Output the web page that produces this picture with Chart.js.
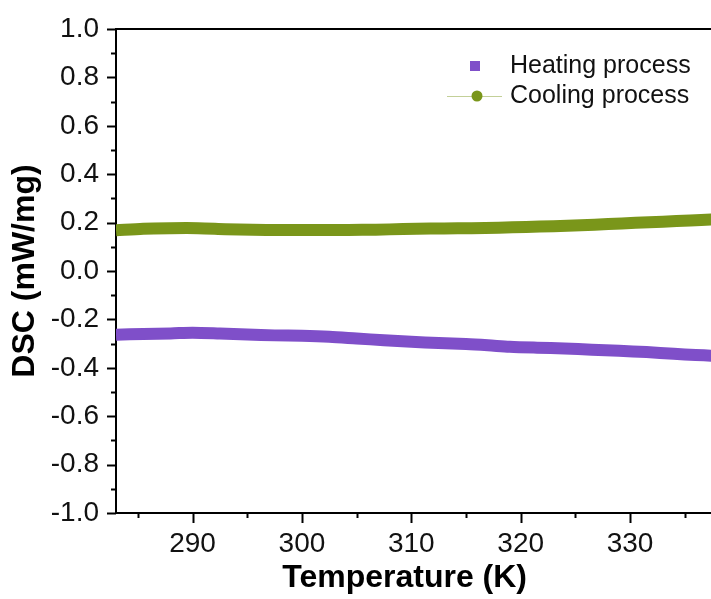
<!DOCTYPE html>
<html>
<head>
<meta charset="utf-8">
<script src="https://cdn.jsdelivr.net/npm/chart.js@4.4.1/dist/chart.umd.min.js"></script>
<style>
  html, body { margin: 0; padding: 0; background: #fff; }
  #wrap { width: 711px; height: 599px; position: relative; }
</style>
</head>
<body>
<div id="wrap"><canvas id="dsc" width="711" height="599"></canvas></div>
<script>
// DSC traces (temperature in K, heat flow in mW/mg)
const heatingT   = [283.0, 285.5, 288.0, 290.0, 292.5, 295.0, 297.5, 300.0, 302.5, 305.0, 307.5, 310.0, 312.5, 315.0, 317.0, 319.0, 321.5, 324.0, 326.5, 329.0, 331.5, 334.0, 336.0, 337.5];
const heatingDSC = [-0.263, -0.260, -0.258, -0.255, -0.258, -0.262, -0.266, -0.268, -0.272, -0.279, -0.286, -0.292, -0.298, -0.302, -0.307, -0.313, -0.317, -0.320, -0.325, -0.330, -0.335, -0.342, -0.347, -0.350];

const coolingT   = [283.0, 285.5, 288.0, 290.5, 293.0, 295.5, 298.0, 300.5, 303.0, 305.5, 308.0, 310.5, 313.0, 315.5, 318.0, 320.5, 323.0, 325.5, 328.0, 330.5, 333.0, 335.5, 337.5];
const coolingDSC = [0.168, 0.175, 0.177, 0.177, 0.173, 0.170, 0.169, 0.169, 0.169, 0.170, 0.172, 0.175, 0.176, 0.177, 0.179, 0.182, 0.185, 0.189, 0.194, 0.199, 0.204, 0.209, 0.213];

// axis ticks
const xMajorTicks = [290, 300, 310, 320, 330];
const xMinorTicks = [285, 295, 305, 315, 325, 335];
const yMajorTicks = [-1.0, -0.8, -0.6, -0.4, -0.2, 0.0, 0.2, 0.4, 0.6, 0.8, 1.0];
const yMinorTicks = [-0.9, -0.7, -0.5, -0.3, -0.1, 0.1, 0.3, 0.5, 0.7, 0.9];

const purple = 'rgb(127, 79, 201)';
const green  = 'rgb(122, 150, 26)';
const fontFamily = '"Liberation Sans", Arial, Helvetica, sans-serif';

const toXY = (xs, ys) => xs.map((x, i) => ({ x: x, y: ys[i] }));

// outward tick marks (major and minor) plus the top frame line
const frameAndTicks = {
  id: 'frameAndTicks',
  afterDraw(chart) {
    const { ctx, chartArea, scales } = chart;
    const xs = scales.x, ys = scales.y;
    ctx.save();
    ctx.strokeStyle = '#000';
    ctx.lineWidth = 2;
    ctx.beginPath();
    ctx.moveTo(chartArea.left, chartArea.top);
    ctx.lineTo(chartArea.right, chartArea.top);
    ctx.stroke();
    const bottom = chartArea.bottom, left = chartArea.left;
    const drawX = (vals, len) => vals.forEach(v => {
      const px = Math.round(xs.getPixelForValue(v)) + 0.5;
      ctx.beginPath(); ctx.moveTo(px, bottom); ctx.lineTo(px, bottom + len); ctx.stroke();
    });
    const drawY = (vals, len) => vals.forEach(v => {
      const py = Math.round(ys.getPixelForValue(v)) + 0.5;
      ctx.beginPath(); ctx.moveTo(left, py); ctx.lineTo(left - len, py); ctx.stroke();
    });
    drawX(xMajorTicks, 10); drawX(xMinorTicks, 5);
    drawY(yMajorTicks, 9);  drawY(yMinorTicks, 5);
    ctx.restore();
  }
};

// legend in the upper right of the plot
const insetLegend = {
  id: 'insetLegend',
  afterDraw(chart) {
    const ctx = chart.ctx;
    const ds = chart.data.datasets;
    ctx.save();
    ctx.font = '25px ' + fontFamily;
    ctx.textBaseline = 'middle';
    const y1 = 66, y2 = 96, mx = 475, tx = 510;
    // heating: square marker
    ctx.fillStyle = ds[0].borderColor;
    ctx.fillRect(mx - 5, y1 - 5, 10, 10);
    ctx.fillStyle = '#111';
    ctx.fillText(ds[0].label, tx, y1);
    // cooling: line with circle marker
    ctx.strokeStyle = 'rgba(122, 150, 26, 0.45)';
    ctx.lineWidth = 1;
    ctx.beginPath(); ctx.moveTo(447, y2 + 0.5); ctx.lineTo(502, y2 + 0.5); ctx.stroke();
    ctx.fillStyle = ds[1].borderColor;
    ctx.beginPath(); ctx.arc(mx + 2, y2, 5.5, 0, Math.PI * 2); ctx.fill();
    ctx.fillStyle = '#111';
    ctx.fillText(ds[1].label, tx, y2);
    ctx.restore();
  }
};

new Chart(document.getElementById('dsc'), {
  type: 'line',
  data: {
    datasets: [
      {
        label: 'Heating process',
        data: toXY(heatingT, heatingDSC),
        borderColor: purple,
        backgroundColor: purple,
        borderWidth: 12,
        pointRadius: 0,
        tension: 0.3,
        borderCapStyle: 'butt'
      },
      {
        label: 'Cooling process',
        data: toXY(coolingT, coolingDSC),
        borderColor: green,
        backgroundColor: green,
        borderWidth: 12,
        pointRadius: 0,
        tension: 0.3,
        borderCapStyle: 'butt'
      }
    ]
  },
  options: {
    responsive: false,
    animation: false,
    events: [],
    layout: { padding: { top: 29, right: 0, left: 0, bottom: 0 } },
    plugins: { legend: { display: false }, tooltip: { enabled: false } },
    scales: {
      x: {
        type: 'linear',
        min: 283,
        max: 337.4,
        afterBuildTicks: s => { s.ticks = xMajorTicks.map(v => ({ value: v })); },
        afterFit: s => { s.height = 86; s.paddingLeft = 0; s.paddingRight = 0; },
        grid: { display: false, drawTicks: false },
        border: { display: true, color: '#000', width: 2 },
        ticks: {
          color: '#111',
          padding: 14,
          maxRotation: 0,
          autoSkip: false,
          font: { family: fontFamily, size: 28 },
          callback: v => String(v)
        },
        title: {
          display: true,
          text: 'Temperature (K)  ',
          color: '#000',
          padding: { top: 0, bottom: 2 },
          font: { family: fontFamily, size: 32, weight: 'bold' }
        }
      },
      y: {
        type: 'linear',
        min: -1.0,
        max: 1.0,
        afterBuildTicks: s => { s.ticks = yMajorTicks.map(v => ({ value: v })); },
        afterFit: s => { s.width = 116; s.paddingTop = 0; s.paddingBottom = 0; },
        grid: { display: false, drawTicks: false },
        border: { display: true, color: '#000', width: 2 },
        ticks: {
          color: '#111',
          padding: 17,
          autoSkip: false,
          font: { family: fontFamily, size: 28 },
          callback: v => (Math.abs(v) < 1e-9 ? 0 : v).toFixed(1)
        },
        title: {
          display: true,
          text: 'DSC (mW/mg)',
          color: '#000',
          padding: { top: 6, bottom: 0 },
          font: { family: fontFamily, size: 32, weight: 'bold' }
        }
      }
    }
  },
  plugins: [frameAndTicks, insetLegend]
});
</script>
</body>
</html>
